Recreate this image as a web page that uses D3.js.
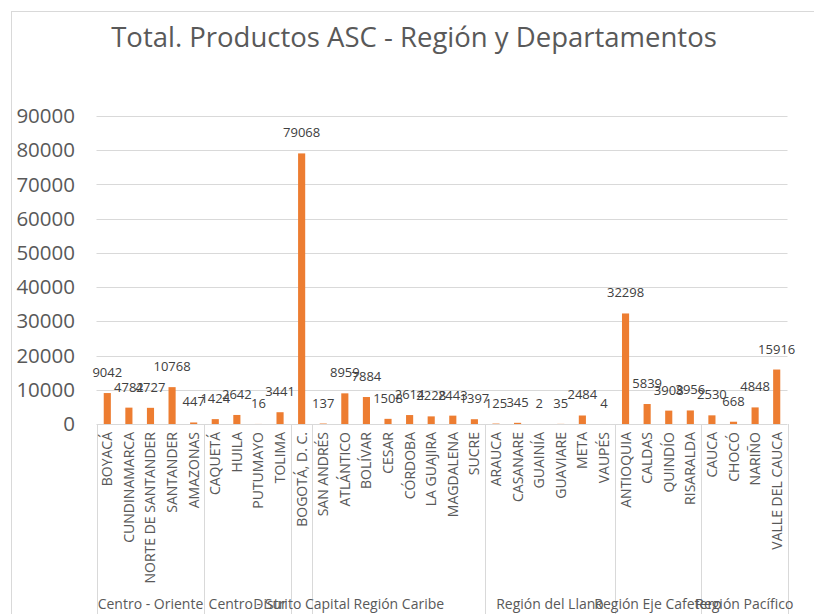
<!DOCTYPE html>
<html>
<head>
<meta charset="utf-8">
<script src="https://cdn.jsdelivr.net/npm/d3@7/dist/d3.min.js"></script>
<style>
  html, body { margin: 0; padding: 0; background: #fff; }
  svg { display: block; }
  text { font-family: "Open Sans", sans-serif; fill: #595959; }
</style>
</head>
<body>
<svg id="chart" width="814" height="614"></svg>
<script>
const title = "Total. Productos ASC - Región y Departamentos";
const regions = ["Centro - Oriente", "Centro - Sur", "Distrito Capital", "Región Caribe", "Región del Llano", "Región Eje Cafetero", "Región Pacífico"];
const departments = [
  ["BOYACÁ", "CUNDINAMARCA", "NORTE DE SANTANDER", "SANTANDER", "AMAZONAS"],
  ["CAQUETÁ", "HUILA", "PUTUMAYO", "TOLIMA"],
  ["BOGOTÁ, D. C."],
  ["SAN ANDRÉS", "ATLÁNTICO", "BOLÍVAR", "CESAR", "CÓRDOBA", "LA GUAJIRA", "MAGDALENA", "SUCRE"],
  ["ARAUCA", "CASANARE", "GUAINÍA", "GUAVIARE", "META", "VAUPÉS"],
  ["ANTIOQUIA", "CALDAS", "QUINDÍO", "RISARALDA"],
  ["CAUCA", "CHOCÓ", "NARIÑO", "VALLE DEL CAUCA"]
];
const values = [
  [9042, 4782, 4727, 10768, 447],
  [1424, 2642, 16, 3441],
  [79068],
  [137, 8959, 7884, 1508, 2614, 2228, 2443, 1397],
  [125, 345, 2, 35, 2484, 4],
  [32298, 5839, 3908, 3956],
  [2530, 668, 4848, 15916]
];
const yTicks = [0, 10000, 20000, 30000, 40000, 50000, 60000, 70000, 80000, 90000];

(function () {
const rows = [];
const groups = [];
regions.forEach((r, gi) => {
  const start = rows.length;
  departments[gi].forEach((d, i) => rows.push({ key: gi + "|" + d, name: d, value: values[gi][i], group: r }));
  groups.push({ name: r, start, end: rows.length });
});

const svg = d3.select("#chart");
const W = 814, H = 614;
const pL = 96.5, pR = 787.5, pT = 116, pB = 424;

svg.append("rect").attr("x", 11.5).attr("y", 11.5).attr("width", W).attr("height", H)
  .attr("fill", "none").attr("stroke", "#d9d9d9").attr("stroke-width", 1);

svg.append("text").attr("x", 414).attr("y", 47).attr("text-anchor", "middle")
  .style("font-size", "27.5px").text(title);

const x = d3.scaleBand().domain(rows.map(d => d.key)).range([pL, pR]).paddingInner(0.67).paddingOuter(0.335);
const y = d3.scaleLinear().domain([0, 90000]).range([pB, pT]);

svg.append("g").selectAll("line").data(yTicks.slice(1)).join("line")
  .attr("x1", pL).attr("x2", pR)
  .attr("y1", d => Math.round(y(d)) + 0.5).attr("y2", d => Math.round(y(d)) + 0.5)
  .attr("stroke", "#d9d9d9").attr("stroke-width", 1);

const yAxis = d3.axisLeft(y).tickValues(yTicks).tickSize(0).tickPadding(0).tickFormat(d3.format("d"));
const ya = svg.append("g").attr("transform", `translate(75,0)`).call(yAxis);
ya.select(".domain").remove();
ya.selectAll("text").style("font-size", "20.5px").style("fill", "#595959").style("font-family", "'Open Sans', sans-serif");

svg.append("g").selectAll("rect").data(rows).join("rect")
  .attr("x", d => x(d.key)).attr("width", x.bandwidth())
  .attr("y", d => y(d.value)).attr("height", d => pB - y(d.value))
  .attr("fill", "#ED7D31");

svg.append("g").selectAll("text").data(rows).join("text")
  .attr("x", d => x(d.key) + x.bandwidth() / 2)
  .attr("y", d => y(d.value) - 16)
  .attr("text-anchor", "middle")
  .style("font-size", "13px").style("fill", "#404040")
  .text(d => d.value);

svg.append("line").attr("x1", pL).attr("x2", pR).attr("y1", pB + 0.5).attr("y2", pB + 0.5)
  .attr("stroke", "#d9d9d9");

const unit = (pR - pL) / rows.length;
const bounds = [0].concat(groups.map(g => g.end));
svg.append("g").selectAll("line").data(bounds).join("line")
  .attr("x1", d => Math.round(pL + d * unit) + 0.5)
  .attr("x2", d => Math.round(pL + d * unit) + 0.5)
  .attr("y1", pB).attr("y2", H)
  .attr("stroke", "#d9d9d9");

svg.append("g").selectAll("text").data(rows).join("text")
  .attr("transform", d => `translate(${x(d.key) + x.bandwidth() / 2 + 5},432) rotate(-90)`)
  .attr("text-anchor", "end")
  .style("font-size", "14px")
  .text(d => d.name);

svg.append("g").selectAll("text").data(groups).join("text")
  .attr("x", g => pL + (g.start + g.end) / 2 * unit)
  .attr("y", 609)
  .attr("text-anchor", "middle")
  .style("font-size", "14px")
  .text(g => g.name);
})();
</script>
</body>
</html>
